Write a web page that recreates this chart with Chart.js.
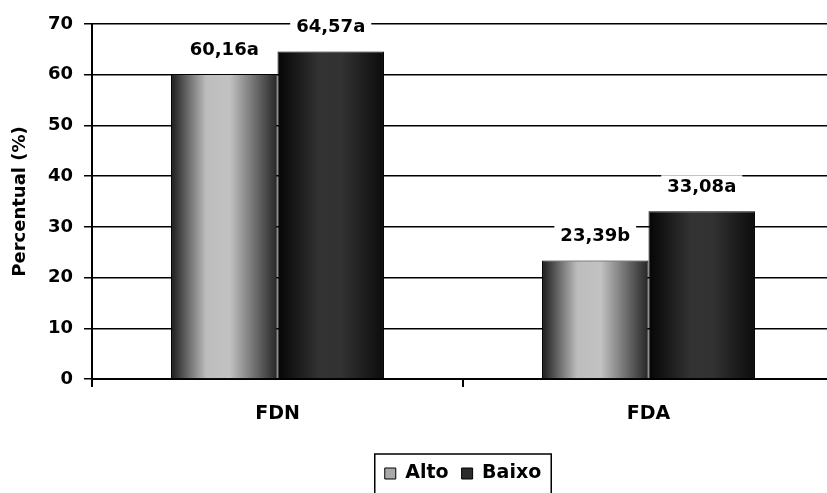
<!DOCTYPE html>
<html>
<head>
<meta charset="utf-8">
<script src="https://cdn.jsdelivr.net/npm/chart.js@4/dist/chart.umd.min.js"></script>
<style>
  html, body { margin: 0; padding: 0; background: #fff; overflow: hidden; }
  #wrap { position: absolute; left: 0; top: 0; width: 850px; height: 493px; }
</style>
</head>
<body>
<div id="wrap"><canvas id="c" width="850" height="493"></canvas></div>
<script>
// Fibre fractions (%) by level
const categories = ['FDN', 'FDA'];
const seriesNames = ['Alto', 'Baixo'];
const alto = [60.16, 23.39];
const baixo = [64.57, 33.08];
const altoLetters = ['a', 'b'];
const baixoLetters = ['a', 'a'];
const yMin = 0, yMax = 70, yStep = 10;
const yTitle = 'Percentual (%)';

const BOLD = 'bold 18px "DejaVu Sans"';
const GROUP = 0.574;

// horizontal metallic shading for each bar
const shades = [
  [[0, '#1c1c1c'], [0.33, '#bdbdbd'], [0.55, '#c2c2c2'], [0.8, '#6a6a6a'], [1, '#262626']],
  [[0, '#050505'], [0.4, '#333333'], [0.6, '#323232'], [1, '#0c0c0c']]
];

function barFill(ctx) {
  const chart = ctx.chart;
  const xs = chart.scales && chart.scales.x;
  const flat = ctx.datasetIndex === 0 ? '#a8a8a8' : '#2a2a2a';
  if (!xs || ctx.type !== 'data' || !isFinite(xs.width) || xs.width <= 0) return flat;
  const center = xs.getPixelForValue(ctx.dataIndex);
  const bw = xs.width / categories.length * GROUP / 2;
  const x0 = ctx.datasetIndex === 0 ? center - bw : center;
  const g = chart.ctx.createLinearGradient(x0, 0, x0 + bw, 0);
  shades[ctx.datasetIndex].forEach(s => g.addColorStop(s[0], s[1]));
  return g;
}

function fmt(v, letter) {
  return v.toFixed(2).replace('.', ',') + letter;
}

// value labels on a white backing above each bar
const valueLabels = {
  id: 'valueLabels',
  afterDatasetsDraw(chart) {
    const ctx = chart.ctx;
    const letters = [altoLetters, baixoLetters];
    ctx.save();
    ctx.font = BOLD;
    ctx.textAlign = 'center';
    ctx.textBaseline = 'middle';
    chart.data.datasets.forEach((ds, di) => {
      chart.getDatasetMeta(di).data.forEach((bar, i) => {
        const txt = fmt(ds.data[i], letters[di][i]);
        const w = ctx.measureText(txt).width + 12;
        const cy = bar.y - 24;
        ctx.fillStyle = '#fff';
        ctx.fillRect(bar.x - w / 2, cy - 12, w, 24);
        ctx.fillStyle = '#000';
        ctx.fillText(txt, bar.x, cy);
      });
    });
    ctx.restore();
  }
};

// frame round the legend
const legendFrame = {
  id: 'legendFrame',
  afterDraw(chart) {
    const ctx = chart.ctx;
    const lg = chart.legend;
    if (lg && lg.legendHitBoxes && lg.legendHitBoxes.length) {
      const hb = lg.legendHitBoxes;
      const left = hb[0].left - 10;
      const last = hb[hb.length - 1];
      const right = last.left + last.width + 10;
      ctx.save();
      ctx.strokeStyle = '#000';
      ctx.lineWidth = 1.5;
      ctx.strokeRect(left, lg.top + 3, right - left, 60);
      ctx.restore();
    }
  }
};

new Chart(document.getElementById('c'), {
  type: 'bar',
  data: {
    labels: categories,
    datasets: [
      { label: seriesNames[0], data: alto, backgroundColor: barFill, borderColor: '#000', borderWidth: 1 },
      { label: seriesNames[1], data: baixo, backgroundColor: barFill, borderColor: '#000', borderWidth: 1 }
    ]
  },
  options: {
    responsive: false,
    animation: false,
    layout: { padding: { left: 0, right: 16, top: 24, bottom: 0 } },
    datasets: { bar: { barPercentage: 1, categoryPercentage: GROUP } },
    plugins: {
      tooltip: { enabled: false },
      legend: {
        position: 'bottom',
        fullSize: false,
        labels: {
          font: { family: 'DejaVu Sans', weight: 'bold', size: 19 },
          color: '#000',
          boxWidth: 11,
          boxHeight: 11,
          padding: 13,
          generateLabels: () => seriesNames.map((n, i) => ({
            text: n,
            fillStyle: i === 0 ? '#a9a9a9' : '#2b2b2b',
            strokeStyle: '#000',
            lineWidth: 1,
            datasetIndex: i
          }))
        }
      }
    },
    scales: {
      x: {
        grid: { offset: true, drawOnChartArea: false, drawTicks: true, tickLength: 8, color: '#000', lineWidth: 2 },
        border: { color: '#000', width: 2 },
        ticks: { color: '#000', font: { family: 'DejaVu Sans', weight: 'bold', size: 19 }, padding: 16 },
        afterFit(scale) { scale.height = 72; }
      },
      y: {
        min: yMin,
        max: yMax,
        title: {
          display: true,
          text: yTitle,
          color: '#000',
          font: { family: 'DejaVu Sans', weight: 'bold', size: 18 },
          padding: { top: 10, bottom: 0 }
        },
        ticks: { stepSize: yStep, color: '#000', font: { family: 'DejaVu Sans', weight: 'bold', size: 18 }, padding: 11 },
        grid: { color: '#000', lineWidth: 1.5, tickLength: 8 },
        border: { color: '#000', width: 2 },
        afterFit(scale) { scale.width = 92; }
      }
    }
  },
  plugins: [valueLabels, legendFrame]
});
</script>
</body>
</html>
